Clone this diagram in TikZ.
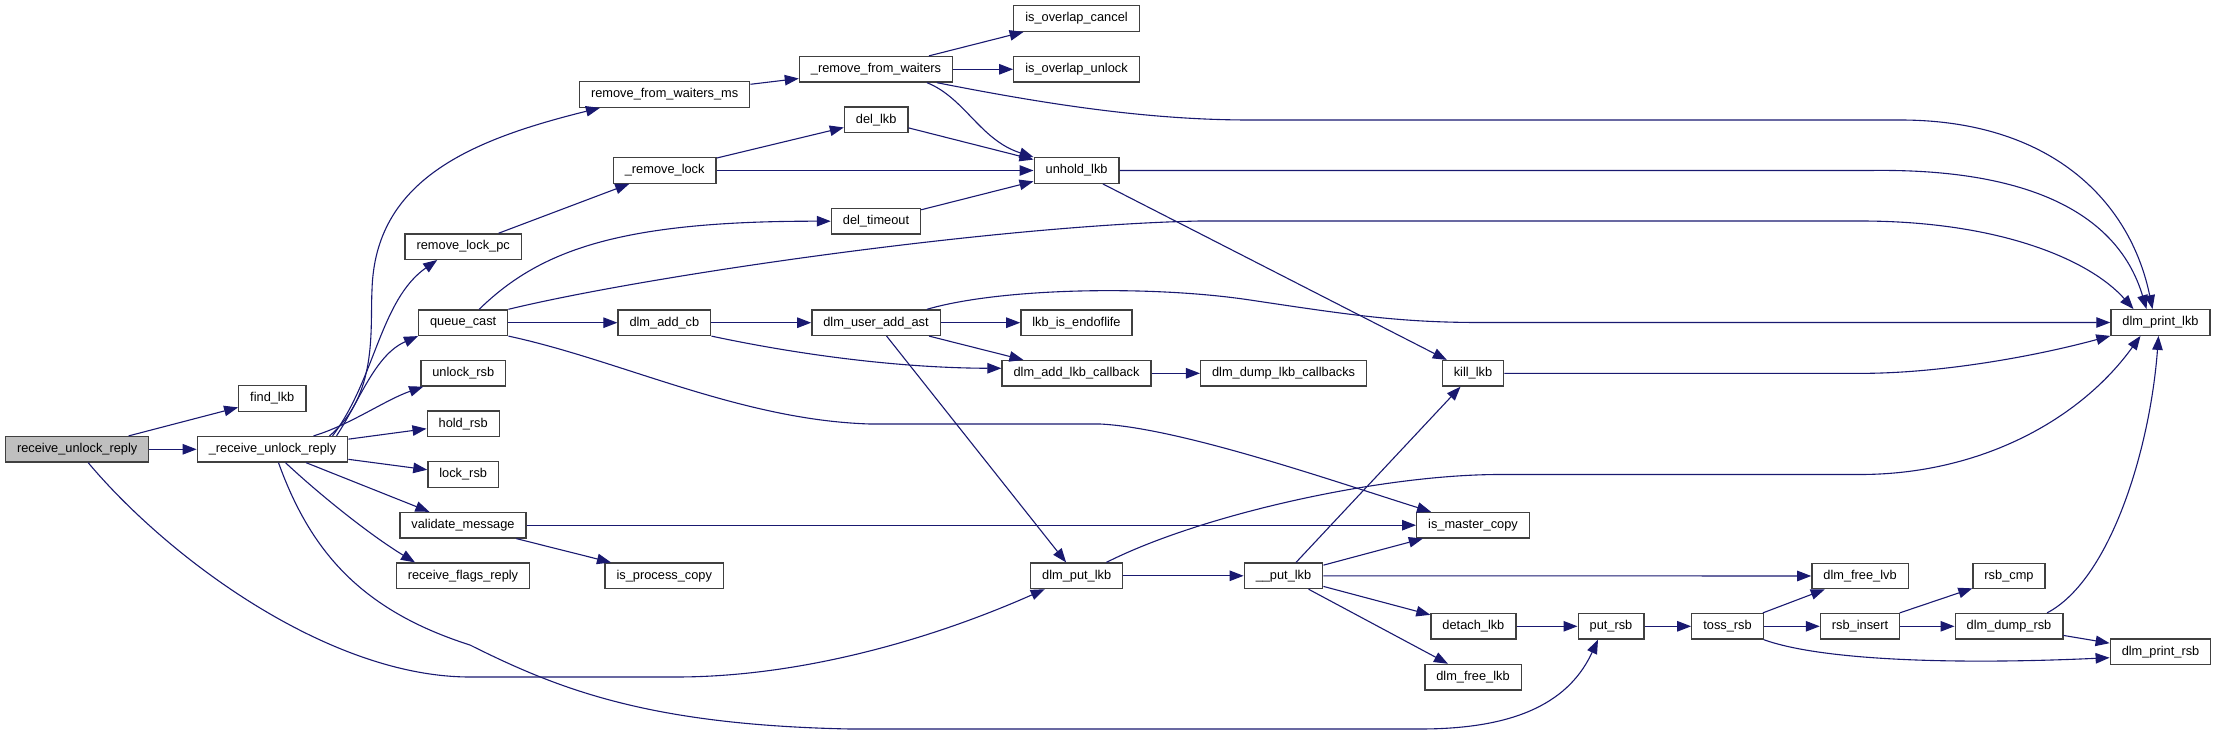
\documentclass[tikz,border=0pt]{standalone}
\usepackage{fontspec}
\setmainfont{Liberation Sans}
\usetikzlibrary{arrows.meta}
\definecolor{Edge}{HTML}{191970}
\definecolor{Frame}{HTML}{404040}
\definecolor{Root}{HTML}{BFBFBF}

\begin{document}
\begin{tikzpicture}[
  x=1pt,y=-1pt,
  >={Triangle[length=14pt,width=10.5pt]},
  every node/.style={font=\fontsize{12.8}{14}\selectfont},
  fnbox/.style={draw=Frame,line width=1.3pt,fill=white,minimum height=25.5pt,inner xsep=11.5pt,inner ysep=0pt},
  call/.style={->,draw=Edge,fill=none,line width=1.1pt}
]
  \useasboundingbox (0,0) rectangle (2216,738);
  \node[fnbox,fill=Root] (recvreply) at (77.2,449.3) {receive\_unlock\_reply};
  \node[fnbox] (recvunlock) at (272.5,449.3) {\_receive\_unlock\_reply};
  \node[fnbox] (findlkb) at (272.3,398.5) {find\_lkb};
  \node[fnbox] (rmwaitersms) at (664.7,94.5) {remove\_from\_waiters\_ms};
  \node[fnbox] (rmwaiters) at (876,69.3) {\_remove\_from\_waiters};
  \node[fnbox] (overlapcancel) at (1076.5,18.5) {is\_overlap\_cancel};
  \node[fnbox] (overlapunlock) at (1076.5,69.3) {is\_overlap\_unlock};
  \node[fnbox] (dellkb) at (876.2,119.7) {del\_lkb};
  \node[fnbox] (rmlock) at (664.7,170.5) {\_remove\_lock};
  \node[fnbox] (unhold) at (1076.6,170.5) {unhold\_lkb};
  \node[fnbox] (deltimeout) at (876,221.2) {del\_timeout};
  \node[fnbox] (rmlockpc) at (463.2,246.6) {remove\_lock\_pc};
  \node[fnbox] (queuecast) at (463.2,322.7) {queue\_cast};
  \node[fnbox] (unlockrsb) at (463.3,373.3) {unlock\_rsb};
  \node[fnbox] (holdrsb) at (463.2,423.8) {hold\_rsb};
  \node[fnbox] (lockrsb) at (463.2,474.5) {lock\_rsb};
  \node[fnbox] (validate) at (463,525.2) {validate\_message};
  \node[fnbox] (flagsreply) at (463,575.8) {receive\_flags\_reply};
  \node[fnbox] (addcb) at (664.4,322.7) {dlm\_add\_cb};
  \node[fnbox] (useraddast) at (876,322.7) {dlm\_user\_add\_ast};
  \node[fnbox] (endoflife) at (1076.5,322.7) {lkb\_is\_endoflife};
  \node[fnbox] (addcallback) at (1076.5,373.3) {dlm\_add\_lkb\_callback};
  \node[fnbox] (dumpcallbacks) at (1283.6,373.3) {dlm\_dump\_lkb\_callbacks};
  \node[fnbox] (killlkb) at (1473,373.3) {kill\_lkb};
  \node[fnbox] (printlkb) at (2160.5,322.5) {dlm\_print\_lkb};
  \node[fnbox] (processcopy) at (664.3,575.8) {is\_process\_copy};
  \node[fnbox] (putlkb) at (1076.7,575.8) {dlm\_put\_lkb};
  \node[fnbox] (putlkbb) at (1283.5,575.8) {\_\_put\_lkb};
  \node[fnbox] (mastercopy) at (1473,525.2) {is\_master\_copy};
  \node[fnbox] (freelvb) at (1860,576) {dlm\_free\_lvb};
  \node[fnbox] (rsbcmp) at (2009,576) {rsb\_cmp};
  \node[fnbox] (detach) at (1473.4,626.3) {detach\_lkb};
  \node[fnbox] (putrsb) at (1611,626.3) {put\_rsb};
  \node[fnbox] (tossrsb) at (1727.5,626.3) {toss\_rsb};
  \node[fnbox] (rsbinsert) at (1860,626.3) {rsb\_insert};
  \node[fnbox] (dumprsb) at (2009,626.3) {dlm\_dump\_rsb};
  \node[fnbox] (printrsb) at (2160.5,651.7) {dlm\_print\_rsb};
  \node[fnbox] (freelkb) at (1473,677.2) {dlm\_free\_lkb};
  \foreach \a/\b in {recvreply/findlkb,recvreply/recvunlock,recvunlock/holdrsb,recvunlock/lockrsb,
      recvunlock/validate,rmwaitersms/rmwaiters,rmwaiters/overlapcancel,rmwaiters/overlapunlock,
      rmlockpc/rmlock,rmlock/dellkb,rmlock/unhold,dellkb/unhold,deltimeout/unhold,unhold/killlkb,
      queuecast/addcb,addcb/useraddast,useraddast/endoflife,useraddast/addcallback,useraddast/putlkb,
      addcallback/dumpcallbacks,validate/mastercopy,validate/processcopy,putlkb/putlkbb,
      putlkbb/killlkb,putlkbb/mastercopy,putlkbb/freelvb,putlkbb/detach,putlkbb/freelkb,
      detach/putrsb,putrsb/tossrsb,tossrsb/freelvb,tossrsb/rsbinsert,rsbinsert/rsbcmp,
      rsbinsert/dumprsb,dumprsb/printrsb}
    \draw[call] (\a) -- (\b);
  \draw[call] ([xshift=11pt]recvreply.south) .. controls (170,560) and (330,677) .. (470,677)
    -- (676,677) .. controls (800,677) and (930,640) .. ([xshift=-32pt]putlkb.south);
  \draw[call] ([xshift=57pt]recvunlock.north) .. controls (378,395) and (370,330) .. (372,290)
    .. controls (375,180) and (470,140) .. ([xshift=21pt]rmwaitersms.south west);
  \draw[call] ([xshift=60pt]recvunlock.north) .. controls (375,380) and (380,300) .. ([xshift=-26pt]rmlockpc.south);
  \draw[call] ([xshift=64pt]recvunlock.north) .. controls (360,400) and (375,355) .. (queuecast.south west);
  \draw[call] ([xshift=41pt]recvunlock.north) .. controls (350,425) and (385,400) .. ([xshift=3pt]unlockrsb.south west);
  \draw[call] ([xshift=13pt]recvunlock.south) .. controls (320,495) and (370,535) .. ([xshift=-48pt]flagsreply.north);
  \draw[call] ([xshift=6pt]recvunlock.south) .. controls (310,550) and (360,610) .. (470,645)
    .. controls (560,690) and (650,725) .. (850,729) -- (1420,729)
    .. controls (1520,729) and (1570,700) .. ([xshift=-13pt]putrsb.south);
  \draw[call] ([xshift=51pt]rmwaiters.south) .. controls (965,98) and (980,140) .. (unhold.north west);
  \draw[call] ([xshift=61pt]rmwaiters.south) .. controls (1050,105) and (1150,120) .. (1250,120)
    -- (1900,120) .. controls (2050,120) and (2130,200) .. ([xshift=-8pt]printlkb.north);
  \draw[call] (unhold.east) -- (1870,170.5) .. controls (2040,168) and (2120,220) .. ([xshift=-14pt]printlkb.north);
  \draw[call] (queuecast.north east) .. controls (650,275) and (1000,225) .. (1200,221)
    -- (1860,221) .. controls (2000,221) and (2090,260) .. ([xshift=-27pt]printlkb.north);
  \draw[call] ([xshift=16pt]queuecast.north) .. controls (540,250) and (620,221) .. (deltimeout.west);
  \draw[call] (queuecast.south east) .. controls (620,360) and (740,420) .. (870,424)
    -- (1100,424) .. controls (1180,428) and (1330,480) .. ([xshift=-42pt]mastercopy.north);
  \draw[call] (addcb.south east) .. controls (800,355) and (900,368) .. ([yshift=5pt]addcallback.west);
  \draw[call] ([xshift=51pt]useraddast.north) .. controls (1000,288) and (1150,285) .. (1250,300)
    .. controls (1350,315) and (1400,322.5) .. (1480,322.5) -- (printlkb.west);
  \draw[call] (killlkb.east) -- (1870,373.3) .. controls (1950,372) and (2040,355) .. (printlkb.south west);
  \draw[call] ([xshift=-17pt]putlkb.north east) .. controls (1200,515) and (1380,474.5) .. (1500,474.5)
    -- (1860,474.5) .. controls (1980,474.5) and (2080,420) .. ([xshift=-20pt]printlkb.south);
  \draw[call] ([xshift=38pt]dumprsb.north) .. controls (2110,580) and (2150,450) .. ([xshift=-2pt]printlkb.south);
  \draw[call] (tossrsb.south east) .. controls (1820,660) and (1950,665) .. ([yshift=-6pt]printrsb.west);
\end{tikzpicture}
\end{document}
